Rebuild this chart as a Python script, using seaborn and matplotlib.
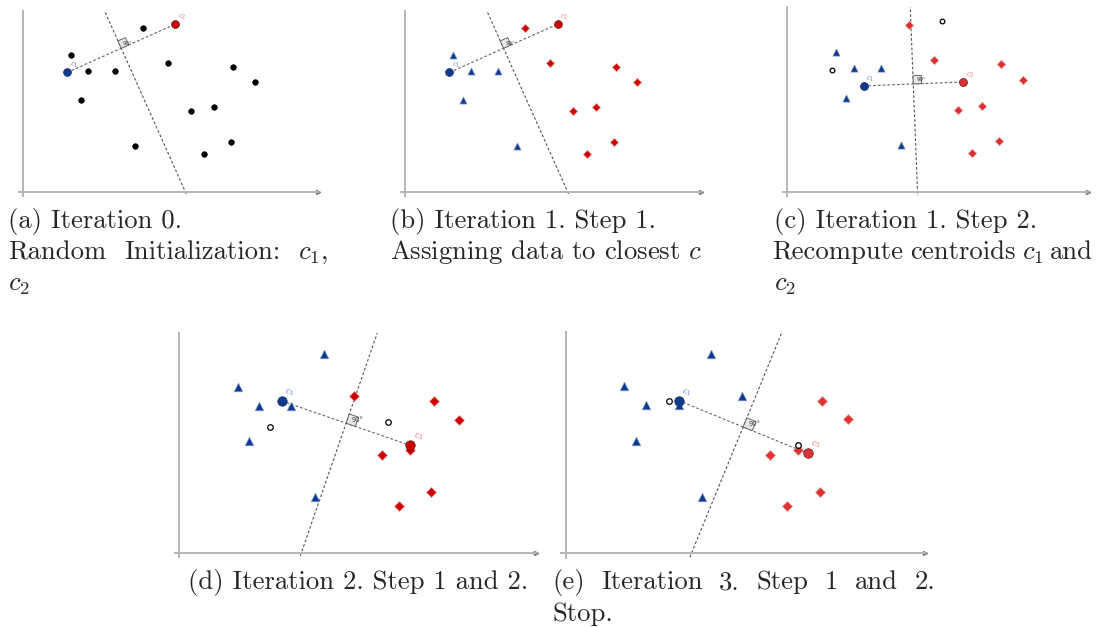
import matplotlib
matplotlib.use('Agg')
import matplotlib.pyplot as plt
from matplotlib.patches import Polygon
import numpy as np
import pandas as pd
import seaborn as sns

# the 13 data points (grid units), same in every panel
pts_x = [6.2, 2.5, 3.4, 4.8, 7.5, 10.9, 12.0, 3.0, 8.7, 9.9, 5.8, 9.4, 10.8]
pts_y = [8.5, 7.1, 6.3, 6.3, 6.7, 6.5, 5.7, 4.8, 4.2, 4.4, 2.4, 2.0, 2.6]

# cluster of each point per panel
assign_a = ['none'] * 13
assign_b = ['red', 'blue', 'blue', 'blue', 'red', 'red', 'red', 'blue', 'red', 'red', 'blue', 'red', 'red']
assign_c = assign_b
assign_d = ['blue', 'blue', 'blue', 'blue', 'red', 'red', 'red', 'blue', 'red', 'red', 'blue', 'red', 'red']
assign_e = ['blue', 'blue', 'blue', 'blue', 'blue', 'red', 'red', 'blue', 'red', 'red', 'blue', 'red', 'red']

# centroids per panel (a..e)
c1_x = [2.3, 2.3, 3.9, 4.4, 4.8]
c1_y = [6.2, 6.2, 5.4, 6.5, 6.5]
c2_x = [7.9, 7.9, 8.95, 9.9, 10.3]
c2_y = [8.7, 8.7, 5.6, 4.6, 4.25]
prev = [None, None, 0, 2, 3]  # panel whose centroids are shown as open circles

W, H = 1096, 627
XMIN, XMAX, YMIN, YMAX = -0.2, 15.3, -0.2, 9.4
BLUE = '#0b3a8e'

sns.set_style('white')
plt.rcParams['font.family'] = ['cmr10', 'DejaVu Serif']
plt.rcParams['mathtext.fontset'] = 'cm'
plt.rcParams['axes.unicode_minus'] = False

fig = plt.figure(figsize=(W / 100, H / 100), dpi=100)


def add_panel(ox, oy, s):
    rect = [(ox + XMIN * s) / W, 1 - (oy - YMIN * s) / H, (XMAX - XMIN) * s / W, (YMAX - YMIN) * s / H]
    ax = fig.add_axes(rect)
    ax.set_xlim(XMIN, XMAX)
    ax.set_ylim(YMIN, YMAX)
    for sp in ['top', 'right']:
        ax.spines[sp].set_visible(False)
    for sp in ['left', 'bottom']:
        ax.spines[sp].set_position(('data', 0))
        ax.spines[sp].set_color('#b5b5b5')
        ax.spines[sp].set_linewidth(1.4)
    ax.set_xticks(range(1, 16))
    ax.set_yticks(range(1, 10))
    ax.tick_params(direction='inout', length=3, width=0.6, color='#808080',
                   labelbottom=False, labelleft=False)
    ax.plot(XMAX, 0, marker='>', ms=3, color='#808080', clip_on=False)
    ax.set_xlabel('')
    ax.set_ylabel('')
    return ax


def draw(ax, i, assign, s, red):
    f = s / 19.33
    df = pd.DataFrame({'x': pts_x, 'y': pts_y, 'cluster': assign})
    styles = [('none', 'o', 'black', 16, 'black'),
              ('blue', '^', BLUE, 26, '#7f9ad0'),
              ('red', 'D', red, 18, '#f0a0a0')]
    for name, mk, col, size, ec in styles:
        sub = df[df.cluster == name]
        if len(sub):
            sns.scatterplot(data=sub, x='x', y='y', marker=mk, color=col, s=size * f ** 2,
                            edgecolor=ec, linewidth=0.5, ax=ax, zorder=4, legend=False)

    c1 = np.array([c1_x[i], c1_y[i]])
    c2 = np.array([c2_x[i], c2_y[i]])
    m = (c1 + c2) / 2
    u = (c2 - c1) / np.linalg.norm(c2 - c1)
    v = np.array([-u[1], u[0]])
    if v[1] < 0:
        v = -v
    # perpendicular bisector and centroid segment
    t = np.array([-30, 30])
    ax.plot(m[0] + t * v[0], m[1] + t * v[1], color='#555555', lw=0.8, dashes=(2.5, 1.8), zorder=2)
    ax.plot([c1[0], c2[0]], [c1[1], c2[1]], color='#666666', lw=0.8, dashes=(2.5, 1.8), zorder=2)
    a = 0.42
    sq = np.array([m, m + a * u, m + a * (u + v), m + a * v])
    ax.add_patch(Polygon(sq, closed=True, facecolor='#e6e6e6', edgecolor='#555555', lw=0.6, zorder=3))
    cen = m + a * (0.45 * u + 0.5 * v)
    ax.text(cen[0], cen[1], '90°', fontsize=4 * f, family='DejaVu Sans', color='#444444',
            ha='left', va='center', zorder=3)

    if prev[i] is not None:
        j = prev[i]
        ax.scatter([c1_x[j], c2_x[j]], [c1_y[j], c2_y[j]], s=11 * f ** 2, facecolor='white',
                   edgecolor='black', linewidth=0.9, zorder=5)
    ax.scatter([c1[0]], [c1[1]], s=32 * f ** 2, color=BLUE, edgecolor='#223366', linewidth=0.5, zorder=6)
    ax.scatter([c2[0]], [c2[1]], s=32 * f ** 2, color=red, edgecolor='#552222', linewidth=0.5, zorder=6)
    ax.annotate('$c_1$', c1, xytext=(2 * f, 4 * f), textcoords='offset points', fontsize=6 * f,
                color='#5f82cc', zorder=7)
    ax.annotate('$c_2$', c2, xytext=(2 * f, 4 * f), textcoords='offset points', fontsize=6 * f,
                color='#e86a6a', zorder=7)


panels = [
    (22.7, 192.3, 19.33, assign_a, '#cc0000'),
    (405.0, 192.3, 19.33, assign_b, '#cc0000'),
    (786.7, 192.3, 19.7, assign_c, '#d93030'),
    (179.3, 552.7, 23.33, assign_d, '#cc0000'),
    (565.7, 553.3, 23.5, assign_e, '#dd3333'),
]
for i, (ox, oy, s, assign, red) in enumerate(panels):
    ax = add_panel(ox, oy, s)
    draw(ax, i, assign, s, red)

renderer = fig.canvas.get_renderer()


def line(x0, y, text, size):
    fig.text(x0 / W, 1 - y / H, text, fontsize=size, ha='left', va='baseline')


def justified(x0, x1, y, words, size):
    ts = [fig.text(0, 0, w, fontsize=size, ha='left', va='baseline') for w in words]
    widths = [t.get_window_extent(renderer).width for t in ts]
    gap = max((x1 - x0 - sum(widths)) / (len(words) - 1), 6.5)
    x = x0
    for t, wd in zip(ts, widths):
        t.set_position((x / W, 1 - y / H))
        x += wd + gap


FS = 19.2
line(8, 228, '(a) Iteration 0.', FS)
justified(8, 328, 259, ['Random', 'Initialization:', '$c_1$,'], FS)
line(8, 290, '$c_2$', FS)

line(390, 228, '(b) Iteration 1. Step 1.', FS)
line(390, 259, 'Assigning data to closest $c$', FS)

line(774, 228, '(c) Iteration 1. Step 2.', FS)
justified(772, 1093, 259, ['Recompute', 'centroids', '$c_1$', 'and'], FS)
line(774, 290, '$c_2$', FS)

line(188, 589, '(d) Iteration 2. Step 1 and 2.', FS)
justified(552, 935, 589, ['(e)', 'Iteration', '3.', 'Step', '1', 'and', '2.'], FS)
line(552, 621, 'Stop.', FS)

fig.savefig('out.png', dpi=100)
